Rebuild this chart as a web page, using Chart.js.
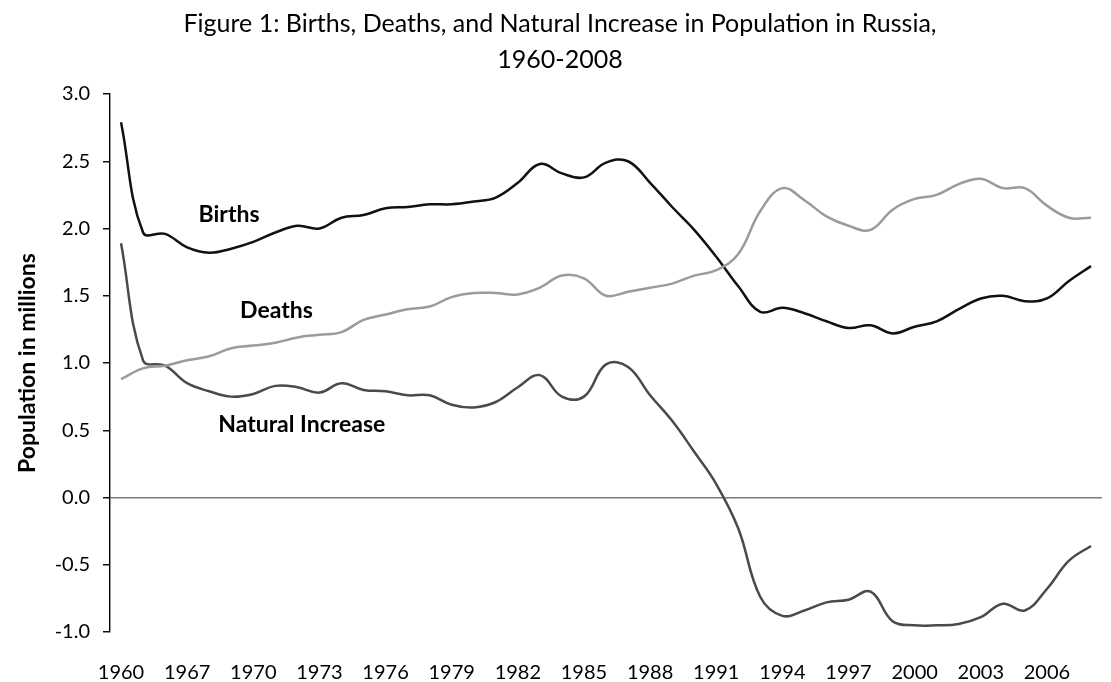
<!DOCTYPE html>
<html>
<head>
<meta charset="utf-8">
<script src="https://cdn.jsdelivr.net/npm/chart.js@4.4.1/dist/chart.umd.min.js"></script>
<style>
  html, body { margin: 0; padding: 0; background: #fff; overflow: hidden; }
  #wrap { width: 1120px; height: 682px; }
</style>
</head>
<body>
<div id="wrap"><canvas id="chart" width="1120" height="682"></canvas></div>
<script>
// ---- data (millions) ----
const years = ['1960', '1965', '1966', '1967', '1968', '1969', '1970', '1971', '1972', '1973',
  '1974', '1975', '1976', '1977', '1978', '1979', '1980', '1981', '1982', '1983',
  '1984', '1985', '1986', '1987', '1988', '1989', '1990', '1991', '1992', '1993',
  '1994', '1995', '1996', '1997', '1998', '1999', '2000', '2001', '2002', '2003',
  '2004', '2005', '2006', '2007', '2008'];

const births = [2.79, 1.97, 1.96, 1.86, 1.82, 1.85, 1.90, 1.97, 2.02, 2.00,
  2.08, 2.10, 2.15, 2.16, 2.18, 2.18, 2.20, 2.23, 2.34, 2.48,
  2.41, 2.38, 2.49, 2.50, 2.34, 2.16, 1.99, 1.79, 1.57, 1.38,
  1.41, 1.37, 1.31, 1.26, 1.28, 1.22, 1.27, 1.31, 1.40, 1.48,
  1.50, 1.46, 1.48, 1.61, 1.72];

const deaths = [0.88, 0.96, 0.98, 1.02, 1.05, 1.11, 1.13, 1.15, 1.19, 1.21,
  1.23, 1.32, 1.36, 1.40, 1.42, 1.49, 1.52, 1.52, 1.51, 1.56,
  1.65, 1.63, 1.50, 1.53, 1.56, 1.59, 1.65, 1.69, 1.81, 2.13,
  2.30, 2.21, 2.09, 2.02, 1.99, 2.14, 2.22, 2.25, 2.33, 2.37,
  2.30, 2.30, 2.17, 2.08, 2.08];

const naturalIncrease = [1.89, 1.02, 0.98, 0.85, 0.79, 0.75, 0.77, 0.83, 0.82, 0.78,
  0.85, 0.80, 0.79, 0.76, 0.76, 0.69, 0.67, 0.71, 0.82, 0.91,
  0.75, 0.75, 0.99, 0.97, 0.76, 0.57, 0.34, 0.10, -0.23, -0.74,
  -0.88, -0.84, -0.78, -0.76, -0.70, -0.92, -0.95, -0.95, -0.94, -0.89,
  -0.79, -0.84, -0.68, -0.47, -0.36];

const yTicks = [-1.0, -0.5, 0.0, 0.5, 1.0, 1.5, 2.0, 2.5, 3.0];

// in-plot series names: [category index, value]
const seriesNotes = [
  { text: 'Births', at: [4.9, 2.10] },
  { text: 'Deaths', at: [7.05, 1.39] },
  { text: 'Natural Increase', at: [8.2, 0.54] }
];

const FONT = 'Lato, "Open Sans", sans-serif';

const notesPlugin = {
  id: 'seriesNotes',
  afterDatasetsDraw(chart) {
    const { ctx, scales: { x, y } } = chart;
    ctx.save();
    ctx.font = `bold 23px ${FONT}`;
    ctx.fillStyle = '#000';
    ctx.textAlign = 'center';
    ctx.textBaseline = 'middle';
    seriesNotes.forEach(n => {
      ctx.fillText(n.text, x.getPixelForValue(n.at[0]), y.getPixelForValue(n.at[1]));
    });
    ctx.restore();
  }
};

function line(label, data, color) {
  return {
    label: label,
    data: data,
    borderColor: color,
    borderWidth: 2.5,
    pointRadius: 0,
    tension: 0.4,
    fill: false
  };
}

new Chart(document.getElementById('chart'), {
  type: 'line',
  data: {
    labels: years,
    datasets: [
      line('Deaths', deaths, '#9b9b9b'),
      line('Natural Increase', naturalIncrease, '#4a4a4a'),
      line('Births', births, '#111111')
    ]
  },
  options: {
    responsive: false,
    animation: false,
    layout: { padding: 0 },
    plugins: {
      legend: { display: false },
      tooltip: { enabled: false },
      title: {
        display: true,
        text: ['Figure 1: Births, Deaths, and Natural Increase in Population in Russia,', '1960-2008'],
        color: '#000',
        font: { family: FONT, size: 25, weight: 'normal', lineHeight: 1.44 },
        padding: { top: 6, bottom: 16 }
      }
    },
    scales: {
      x: {
        offset: true,
        grid: { display: false, drawTicks: false },
        border: { display: false },
        ticks: {
          autoSkip: false,
          maxRotation: 0,
          padding: 29,
          color: '#000',
          font: { family: FONT, size: 20 },
          callback: (v, i) => (i % 3 === 0 ? years[i] : '')
        },
        afterFit: s => { s.height = 50; }
      },
      y: {
        min: -1,
        max: 3,
        afterBuildTicks: s => { s.ticks = yTicks.map(v => ({ value: v })); },
        border: { display: true, color: '#000', width: 1.4 },
        grid: {
          drawOnChartArea: true,
          color: c => (c.tick && c.tick.value === 0 ? '#7a7a7a' : 'rgba(0,0,0,0)'),
          lineWidth: 1.5,
          tickColor: '#000',
          tickLength: 7,
          tickWidth: 1.4
        },
        ticks: {
          padding: 13,
          color: '#000',
          font: { family: FONT, size: 20 },
          callback: v => v.toFixed(1)
        },
        title: {
          display: true,
          text: 'Population in millions',
          color: '#000',
          font: { family: FONT, size: 23, weight: 'bold' },
          padding: { top: 14, bottom: 0 }
        },
        afterFit: s => { s.width = 110; }
      }
    }
  },
  plugins: [notesPlugin]
});
</script>
</body>
</html>
